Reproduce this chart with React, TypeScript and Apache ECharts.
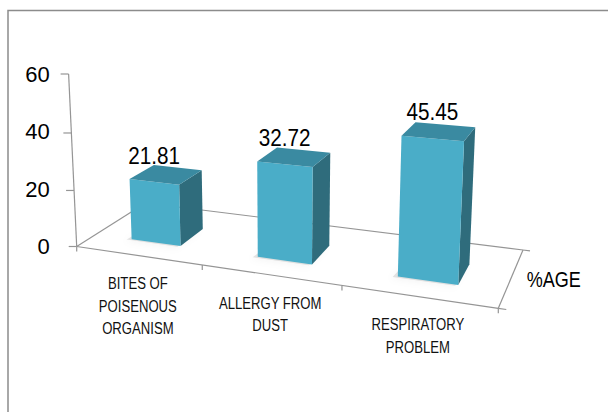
import React, { useEffect, useRef } from "react";
import * as echarts from "echarts";

// ---- chart data ----
const categories = ["BITES OF\nPOISENOUS\nORGANISM", "ALLERGY FROM\nDUST", "RESPIRATORY\nPROBLEM"];
const percentValues = [21.81, 32.72, 45.45];
const seriesName = "%AGE";
const valueAxisMin = 0;
const valueAxisMax = 60;
const valueAxisStep = 20;

// ---- 3D floor layout (screen pixels) ----
const FLOOR_FRONT_RIGHT = [498.3, 308.3];
const FLOOR_BACK_RIGHT = [523, 250];
const FLOOR_BACK_LEFT = [145.5, 203];
const VERTICAL_VANISH = [283, 4642];
const BAR_WIDTH_RATIO = 0.4;
const BAR_DEPTH = [0.26, 0.62];

const FONT = "'Liberation Sans', Arial, sans-serif";
const FRONT_COLOR = "#4aadc8";
const TOP_COLOR = "#3a8aa1";
const SIDE_COLOR = "#2f6c7c";
const FLOOR_LINE = "#959595";

type Pt = number[];

// Perspective projector: floor homography (unit square -> quad) plus vertical lift
// toward a vanishing point, calibrated so the value axis foot keeps the linear scale.
function makeProjector(fl: Pt, fr: Pt, br: Pt, bl: Pt, vp: Pt, hRef: number) {
  const [x0, y0] = fl, [x1, y1] = fr, [x2, y2] = br, [x3, y3] = bl;
  const dx1 = x1 - x2, dx2 = x3 - x2, dx3 = x0 - x1 + x2 - x3;
  const dy1 = y1 - y2, dy2 = y3 - y2, dy3 = y0 - y1 + y2 - y3;
  const den = dx1 * dy2 - dx2 * dy1;
  const g = (dx3 * dy2 - dx2 * dy3) / den;
  const h = (dx1 * dy3 - dx3 * dy1) / den;
  const a = x1 - x0 + g * x1, b = x3 - x0 + h * x3, c = x0;
  const d = y1 - y0 + g * y1, e = y3 - y0 + h * y3, f = y0;
  const k = -1 / (vp[1] - y0 + hRef);
  return (s: number, t: number, hp: number): Pt => {
    const w = g * s + h * t + 1 + k * hp;
    return [(a * s + b * t + c + k * hp * vp[0]) / w, (d * s + e * t + f + k * hp * vp[1]) / w];
  };
}

function projectorFor(cs: any) {
  const foot = [cs.x, cs.y + cs.height];
  return makeProjector(foot, FLOOR_FRONT_RIGHT, FLOOR_BACK_RIGHT, FLOOR_BACK_LEFT, VERTICAL_VANISH, cs.height);
}

function line(p: Pt, q: Pt, color = FLOOR_LINE) {
  return {
    type: "line",
    shape: { x1: p[0], y1: p[1], x2: q[0], y2: q[1] },
    style: { stroke: color, lineWidth: 1.2 },
  };
}

// condensed text: squeezed horizontally around its anchor
function label(text: string, x: number, y: number, fontSize: number, squeeze: number, align: string, vAlign: string, extra: any = {}) {
  return {
    type: "text",
    x,
    y,
    scaleX: squeeze,
    style: { text, fill: "#000", fontSize, fontFamily: FONT, align, verticalAlign: vAlign, ...extra },
  };
}

function renderFloor(params: any, api: any) {
  const cs = params.coordSys;
  const P = projectorFor(cs);
  const fl = P(0, 0, 0), fr = P(1, 0, 0), br = P(1, 1, 0), bl = P(0, 1, 0);
  const children: any[] = [line(fl, fr), line(fl, bl), line(bl, br), line(br, fr)];
  // value axis: slanted vertical edge at the floor's front-left corner
  children.push(line(fl, P(0, 0, cs.height)));
  for (let v = valueAxisMin; v <= valueAxisMax; v += valueAxisStep) {
    const hp = cs.y + cs.height - api.coord([0, v])[1];
    const q = P(0, 0, hp);
    children.push(line([q[0] - 8, q[1]], q));
  }
  // category ticks along the front edge
  const n = categories.length;
  for (let i = 0; i <= n; i++) {
    const q = P(i / n, 0, 0);
    children.push(line(q, [q[0], q[1] + 5]));
  }
  // depth axis ticks
  children.push(line(fr, P(1.016, 0, 0)));
  children.push(line(br, P(1.016, 1, 0)));
  // series name beside the depth axis
  children.push(label(seriesName, (fr[0] + br[0]) / 2 + 16, (fr[1] + br[1]) / 2, 22, 0.82, "left", "middle"));
  return { type: "group", children };
}

function renderBar(params: any, api: any) {
  const cs = params.coordSys;
  const P = projectorFor(cs);
  const idx = api.value(0);
  const val = api.value(1);
  const base = api.coord([idx, 0]);
  const top = api.coord([idx, val]);
  const hp = base[1] - top[1];
  const sC = (base[0] - cs.x) / cs.width;
  const half = BAR_WIDTH_RATIO / categories.length / 2;
  const s0 = sC - half, s1 = sC + half;
  const [t0, t1] = BAR_DEPTH;

  const front = [P(s0, t0, 0), P(s1, t0, 0), P(s1, t0, hp), P(s0, t0, hp)];
  const topFace = [P(s0, t0, hp), P(s1, t0, hp), P(s1, t1, hp), P(s0, t1, hp)];
  const side = [P(s1, t0, 0), P(s1, t1, 0), P(s1, t1, hp), P(s1, t0, hp)];
  const shadow = [P(s0 - 0.01, t0 - 0.02, 0), P(s1 - 0.005, t0 - 0.02, 0), P(s1, t1, 0), P(s0, t1, 0)];
  const labelAnchor = P(sC, t0, hp);
  const catAnchor = P(sC, 0, 0);

  return {
    type: "group",
    children: [
      {
        type: "polygon",
        shape: { points: shadow },
        style: { fill: "rgba(0,0,0,0.10)", shadowBlur: 7, shadowColor: "rgba(0,0,0,0.35)", shadowOffsetX: -2, shadowOffsetY: 2 },
      },
      { type: "polygon", shape: { points: side }, style: { fill: SIDE_COLOR } },
      { type: "polygon", shape: { points: front }, style: { fill: FRONT_COLOR } },
      { type: "polygon", shape: { points: topFace }, style: { fill: TOP_COLOR } },
      label(String(val), labelAnchor[0], labelAnchor[1] - 26, 23, 0.9, "center", "middle"),
      label(categories[idx], catAnchor[0], catAnchor[1] + 17, 16, 0.82, "center", "top", { lineHeight: 22.5, fill: "#111" }),
    ],
  };
}

export default function App() {
  const ref = useRef<HTMLDivElement>(null);

  useEffect(() => {
    if (!ref.current) return;
    const chart = echarts.init(ref.current, undefined, { renderer: "svg" });
    chart.setOption({
      animation: false,
      backgroundColor: "#ffffff",
      grid: { left: 76.7, top: 74, width: 420, height: 172.5 },
      xAxis: { type: "category", data: categories, show: false },
      yAxis: {
        type: "value",
        min: valueAxisMin,
        max: valueAxisMax,
        interval: valueAxisStep,
        axisLine: { show: false },
        axisTick: { show: false },
        splitLine: { show: false },
        axisLabel: { color: "#000", fontSize: 22, fontFamily: FONT, margin: 27 },
      },
      graphic: [
        {
          type: "rect",
          shape: { x: 8, y: 10.5, width: 640, height: 440 },
          style: { fill: "none", stroke: "#8c8c8c", lineWidth: 1.5 },
          silent: true,
        },
      ],
      series: [
        {
          type: "custom",
          name: "floor",
          silent: true,
          z: 1,
          data: [[0, 0]],
          renderItem: renderFloor,
        },
        {
          type: "custom",
          name: seriesName,
          silent: true,
          z: 2,
          data: percentValues.map((v, i) => [i, v]),
          encode: { x: 0, y: 1 },
          renderItem: renderBar,
        },
      ],
    });
    return () => chart.dispose();
  }, []);

  return (
    <div
      ref={ref}
      style={{ position: "fixed", left: 0, top: 0, width: 608, height: 412, background: "#fff" }}
    />
  );
}
